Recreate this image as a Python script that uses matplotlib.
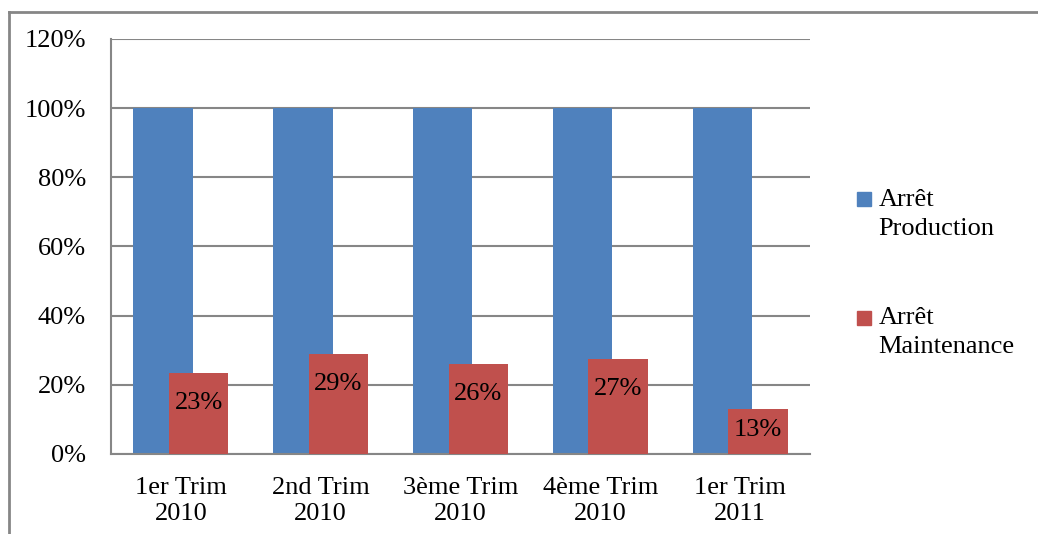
import numpy as np
import matplotlib.pyplot as plt
from matplotlib.ticker import PercentFormatter, MultipleLocator
from matplotlib.lines import Line2D

# Données : part des arrêts par trimestre
trimestres = ["1er Trim\n2010", "2nd Trim\n2010", "3ème Trim\n2010", "4ème Trim\n2010", "1er Trim\n2011"]
arret_production = [1.00, 1.00, 1.00, 1.00, 1.00]
arret_maintenance = [0.234, 0.288, 0.261, 0.274, 0.131]

bleu = "#4F81BD"
rouge = "#C0504D"
gris = "#868686"

plt.rcParams['font.family'] = ['Liberation Serif', 'DejaVu Serif']
taille = 19

fig = plt.figure(figsize=(10.38, 5.34), dpi=100)
ax = fig.add_axes([111 / 1038, 80 / 534, 699 / 1038, 415 / 534])

x = np.arange(len(trimestres))
largeur = 0.425
decal = 0.127
ax.bar(x - decal, arret_production, largeur, color=bleu, zorder=2)
ax.bar(x + decal, arret_maintenance, largeur, color=rouge, zorder=3)

# étiquettes des barres de maintenance, à l'intérieur près du haut
for xi, v in zip(x, arret_maintenance):
    y_lab = max(v - 0.087, v / 2 + 0.005)
    ax.text(xi + decal, y_lab, f"{v * 100:.0f}%", ha='center', va='center',
            fontsize=taille, zorder=4)

ax.set_xlim(-0.5, len(trimestres) - 0.5)
ax.set_ylim(0, 1.2)
ax.yaxis.set_major_locator(MultipleLocator(0.2))
ax.yaxis.set_major_formatter(PercentFormatter(1, decimals=0))
ax.set_xticks(x)
ax.set_xticklabels(trimestres, linespacing=1.25)
ax.tick_params(axis='y', length=0, pad=18, labelsize=taille)
ax.tick_params(axis='x', length=0, pad=16.5, labelsize=taille)

ax.grid(axis='y', color=gris, linewidth=1.5, zorder=0)
ax.set_axisbelow(True)
for cote in ['top', 'right']:
    ax.spines[cote].set_visible(False)
ax.spines['left'].set_color(gris)
ax.spines['left'].set_linewidth(1.5)
ax.spines['bottom'].set_color(gris)
ax.spines['bottom'].set_linewidth(1.5)

poignees = [Line2D([], [], marker='s', markersize=9.5, linestyle='none', color=c)
            for c in (bleu, rouge)]
leg = ax.legend(poignees, ["Arrêt\nProduction", "Arrêt\nMaintenance"],
                loc='upper left', bbox_to_anchor=(856 / 1038, 1 - 189 / 534),
                bbox_transform=fig.transFigure, frameon=False, fontsize=taille,
                handlelength=0.6, handleheight=1.0, handletextpad=0.25,
                labelspacing=2.55, borderpad=0, borderaxespad=0)
for t in leg.get_texts():
    t.set_linespacing(1.4)
# carré de légende aligné sur la première ligne du texte
for colonne in leg._legend_handle_box.get_children():
    for item in colonne.get_children():
        item.align = 'top'

# cadre extérieur du graphique
fig.add_artist(Line2D([9 / 1038, 9 / 1038], [0, 1 - 12 / 534], color=gris, lw=2))
fig.add_artist(Line2D([9 / 1038, 1], [1 - 12 / 534, 1 - 12 / 534], color=gris, lw=2))

fig.savefig("out.png", dpi=100)
